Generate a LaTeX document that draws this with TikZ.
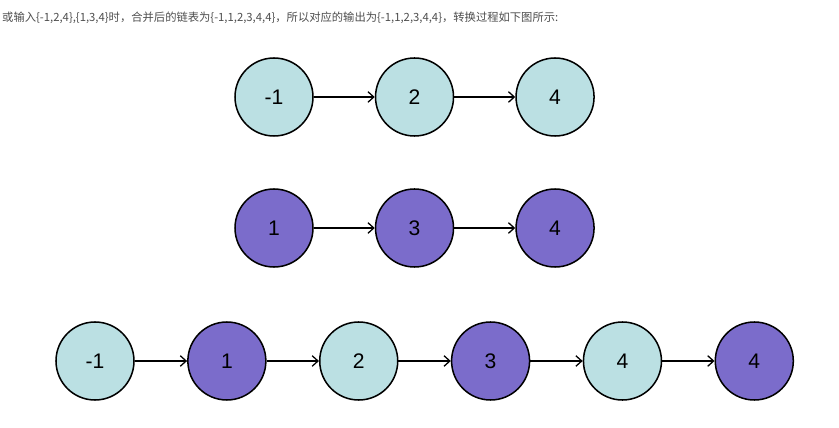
\documentclass[tikz,border=0pt]{standalone}
\usepackage{fontspec}
\setmainfont{Liberation Sans}
\newfontfamily\cjkfont{Noto Sans CJK SC}
\usetikzlibrary{positioning,arrows.meta}

\definecolor{listone}{HTML}{BBE0E3}
\definecolor{listtwo}{HTML}{7B6CCB}
\definecolor{captiongray}{HTML}{4D4D4D}

\begin{document}
\begin{tikzpicture}[
    x=0.03cm, y=-0.03cm,
    node distance=1.83cm,
    listnode/.style={circle, draw=black, line width=1.3pt, minimum size=2.34cm, inner sep=0pt, font=\fontsize{18}{20}\selectfont},
    onenode/.style={listnode, fill=listone},
    twonode/.style={listnode, fill=listtwo},
    arrow/.style={-{Straight Barb[length=5pt,width=9pt]}, line width=1.1pt},
]
    \useasboundingbox (0,0) rectangle (839,428);

    % Caption
    \node[anchor=west, inner sep=0pt, text=captiongray, font=\cjkfont\fontsize{9.65}{11}\selectfont] (caption) at (2,18)
        {或输入\{-1,2,4\},\{1,3,4\}时，合并后的链表为\{-1,1,2,3,4,4\}，所以对应的输出为\{-1,1,2,3,4,4\}，转换过程如下图所示:};

    % First list
    \node[onenode] (a1) at (274,97) {-1};
    \node[onenode, right=of a1] (a2) {2};
    \node[onenode, right=of a2] (a3) {4};

    % Second list
    \node[twonode] (b1) at (274,228) {1};
    \node[twonode, right=of b1] (b2) {3};
    \node[twonode, right=of b2] (b3) {4};

    % Merged list
    \begin{scope}[node distance=1.57cm]
    \node[onenode] (c1) at (95,361) {-1};
    \node[twonode, right=of c1] (c2) {1};
    \node[onenode, right=of c2] (c3) {2};
    \node[twonode, right=of c3] (c4) {3};
    \node[onenode, right=of c4] (c5) {4};
    \node[twonode, right=of c5] (c6) {4};
    \end{scope}

    % Arrows
    \draw[arrow] (a1) -- (a2);
    \draw[arrow] (a2) -- (a3);
    \draw[arrow] (b1) -- (b2);
    \draw[arrow] (b2) -- (b3);
    \foreach \i/\j in {1/2,2/3,3/4,4/5,5/6}
        \draw[arrow] (c\i) -- (c\j);
\end{tikzpicture}
\end{document}
